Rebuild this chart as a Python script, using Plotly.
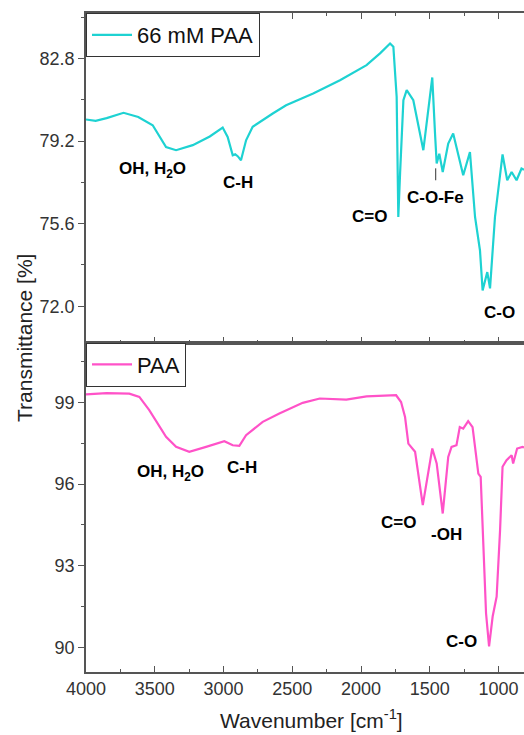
import plotly.graph_objects as go

# ---------------- data ----------------
wn_fe = [4000, 3930, 3850, 3727, 3620, 3515, 3418, 3345, 3224, 3100, 3006, 2970, 2933, 2915, 2897, 2873,
         2836, 2788, 2642, 2545, 2348, 2153, 1960, 1862, 1789, 1765, 1741, 1733, 1729, 1716,
         1692, 1668, 1620, 1547, 1511, 1482, 1462, 1450, 1431, 1406, 1366, 1330, 1257, 1208,
         1171, 1135, 1116, 1082, 1062, 1026, 971, 937, 905, 869, 833, 815]
t_fe = [80.14, 80.08, 80.20, 80.43, 80.25, 79.89, 78.94, 78.80, 79.02, 79.40, 79.79, 79.38, 78.58, 78.62, 78.54, 78.36,
        79.23, 79.82, 80.40, 80.76, 81.27, 81.85, 82.51, 83.02, 83.45, 83.31, 81.12, 78.23, 75.89, 77.80,
        80.98, 81.42, 80.98, 78.80, 80.54, 81.97, 79.53, 78.22, 78.65, 77.85, 79.09, 79.53, 77.71, 78.72,
        75.89, 74.43, 72.69, 73.49, 72.78, 75.89, 78.62, 77.49, 77.85, 77.49, 78.00, 77.95]

wn_paa = [4000, 3850, 3685, 3612, 3540, 3479, 3418, 3345, 3249, 3127, 2994, 2933, 2885, 2836, 2715, 2594,
          2424, 2300, 2107, 1960, 1745, 1709, 1680, 1656, 1607, 1551, 1515, 1482, 1450, 1406,
          1366, 1342, 1306, 1282, 1257, 1221, 1189, 1164, 1147, 1130, 1116, 1091, 1069, 1043,
          1014, 989, 971, 942, 905, 894, 865, 826, 815]
t_paa = [99.30, 99.35, 99.33, 99.21, 98.72, 98.23, 97.74, 97.37, 97.19, 97.37, 97.58, 97.43, 97.41, 97.80, 98.29, 98.60,
         98.99, 99.15, 99.11, 99.23, 99.27, 99.02, 98.47, 97.49, 97.19, 95.23, 96.39, 97.31, 96.76, 94.92,
         97.00, 97.37, 97.43, 98.10, 98.04, 98.32, 98.10, 97.00, 96.39, 96.27, 94.31, 91.25, 90.03, 91.13,
         91.86, 94.31, 96.64, 96.88, 97.06, 96.76, 97.31, 97.37, 97.35]

# band labels: (text, wavenumber, transmittance)
labels_fe = [("OH, H<sub>2</sub>O", 3520, 77.93), ("C-H", 2895, 77.40), ("C=O", 1935, 75.92),
             ("C-O-Fe", 1462, 76.75), ("C-O", 996, 71.73)]
labels_paa = [("OH, H<sub>2</sub>O", 3382, 96.40), ("C-H", 2865, 96.62), ("C=O", 1724, 94.60),
              ("-OH", 1375, 94.13), ("C-O", 1273, 90.20)]
marker_fe = (1457, 77.49, 78.01)

x_range = [4000, 815]
y_top_range = [70.42, 84.78]
y_bot_range = [89.09, 101.21]

CYAN = "#1ED2D2"
PINK = "#FF52C8"
FONT = "Liberation Sans, Arial, sans-serif"
AX = "#555555"

fig = go.Figure()
fig.add_trace(go.Scatter(x=wn_fe, y=t_fe, mode="lines", name="66 mM PAA",
                         line=dict(color=CYAN, width=2.2), xaxis="x2", yaxis="y2", legend="legend"))
fig.add_trace(go.Scatter(x=wn_paa, y=t_paa, mode="lines", name="PAA",
                         line=dict(color=PINK, width=2.2), xaxis="x", yaxis="y", legend="legend2"))

annos = []
for txt, x, y in labels_fe:
    annos.append(dict(text="<b>%s</b>" % txt, x=x, y=y, xref="x2", yref="y2", showarrow=False,
                      font=dict(family=FONT, size=17, color="black")))
for txt, x, y in labels_paa:
    annos.append(dict(text="<b>%s</b>" % txt, x=x, y=y, xref="x", yref="y", showarrow=False,
                      font=dict(family=FONT, size=17, color="black")))
annos.append(dict(text="Transmittance [%]", x=-0.139, y=0.507, xref="paper", yref="paper",
                  textangle=-90, showarrow=False, xanchor="center", yanchor="middle",
                  font=dict(family=FONT, size=21, color="#222")))
annos.append(dict(text="Wavenumber [cm<sup>-1</sup>]", x=0.515, y=-0.072, xref="paper", yref="paper",
                  showarrow=False, xanchor="center", yanchor="middle",
                  font=dict(family=FONT, size=21, color="#222")))

shapes = [dict(type="line", xref="x2", yref="y2", x0=marker_fe[0], x1=marker_fe[0],
               y0=marker_fe[1], y1=marker_fe[2], line=dict(color="#333", width=1))]

xcommon = dict(range=x_range, showline=True, linecolor=AX, linewidth=1.5, showgrid=False,
               zeroline=False, ticks="inside", ticklen=6, tickwidth=1.2, tickcolor=AX,
               tick0=0, dtick=500,
               minor=dict(dtick=250, ticks="inside", ticklen=3, tickcolor=AX, tickwidth=1.2, showgrid=False))
ycommon = dict(showline=True, linecolor=AX, linewidth=1.5, showgrid=False, zeroline=False,
               ticks="outside", ticklen=6, tickwidth=1.2, tickcolor=AX, mirror=False)

fig.update_layout(
    width=524, height=735,
    margin=dict(l=86, r=0, t=13, b=63),
    paper_bgcolor="white", plot_bgcolor="white",
    font=dict(family=FONT, size=18, color="#333"),
    xaxis=dict(**xcommon, domain=[0, 1], anchor="y", mirror=True,
               tickfont=dict(size=18, color="#333")),
    yaxis=dict(**ycommon, domain=[0, 0.5], range=y_bot_range, tick0=90, dtick=3,
               minor=dict(dtick=1.5, ticks="outside", ticklen=3, tickcolor=AX, tickwidth=1.2, showgrid=False),
               tickfont=dict(size=18, color="#333")),
    xaxis2=dict(**xcommon, domain=[0, 1], anchor="y2", matches="x", mirror="allticks",
                showticklabels=False),
    yaxis2=dict(**ycommon, domain=[0.5, 1], range=y_top_range, tick0=72, dtick=3.6, tickformat=".1f",
                minor=dict(dtick=1.8, ticks="outside", ticklen=3, tickcolor=AX, tickwidth=1.2, showgrid=False),
                tickfont=dict(size=18, color="#333")),
    legend=dict(x=0, y=1, xanchor="left", yanchor="top", xref="paper", yref="paper",
                bgcolor="white", bordercolor="#333", borderwidth=1,
                font=dict(family=FONT, size=22, color="#111"), itemwidth=40,
                tracegroupgap=0),
    legend2=dict(x=0, y=0.5, xanchor="left", yanchor="top", xref="paper", yref="paper",
                 bgcolor="white", bordercolor="#333", borderwidth=1,
                 font=dict(family=FONT, size=22, color="#111"), itemwidth=40),
    annotations=annos,
    shapes=shapes,
    showlegend=True,
)

fig.write_html("out.html", config={"displayModeBar": False},
               post_script="document.body.style.margin='0';document.body.style.overflow='hidden';")
